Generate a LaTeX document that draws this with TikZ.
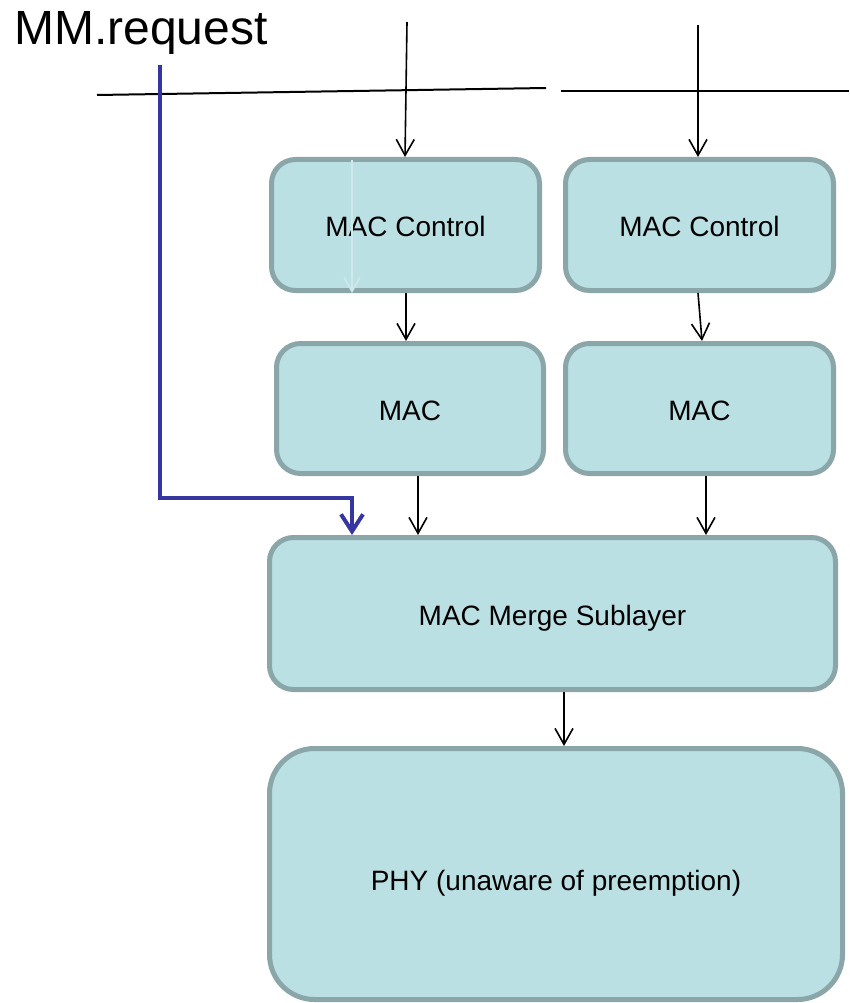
\documentclass[tikz,border=0pt]{standalone}
\usepackage{fontspec}
\setmainfont{Liberation Sans}
\usetikzlibrary{arrows.meta,calc}
\definecolor{boxfill}{HTML}{BAE0E3}
\definecolor{boxline}{HTML}{8AA6A9}
\definecolor{mmblue}{HTML}{3636A0}
\definecolor{ghost}{HTML}{CFE9EB}
\tikzset{
  blk/.style={draw=boxline, fill=boxfill, line width=5pt, rounded corners=24pt,
    font=\fontsize{28}{32}\selectfont, inner sep=0pt, text height=23pt, text depth=0pt},
  arr/.style={draw=black, line width=1.6pt, -{Straight Barb[length=16pt,width=18pt,line width=1.6pt]}},
  bluearr/.style={draw=mmblue, line width=4pt, -{Straight Barb[length=17pt,width=22pt,line width=4pt]}},
  bar/.style={draw=black, line width=2pt},
}
\begin{document}
\begin{tikzpicture}[x=1pt,y=-1pt]
\useasboundingbox (0,0) rectangle (849,1003);
% boxes
\node[blk, minimum width=268pt, minimum height=131pt] (mcl) at (405.5,225) {MAC Control};
\node[blk, minimum width=268pt, minimum height=131pt] (mcr) at (699.5,225) {MAC Control};
\node[blk, minimum width=267pt, minimum height=130pt] (macl) at (410,408.5) {MAC};
\node[blk, minimum width=268pt, minimum height=130pt] (macr) at (699.5,408.5) {MAC};
\node[blk, minimum width=566pt, minimum height=152pt] (merge) at (552.5,613.5) {MAC Merge Sublayer};
\node[blk, rounded corners=45pt, text height=32pt, minimum width=573pt, minimum height=251pt] (phy) at (556,874) {PHY (unaware of preemption)};
% title text
\node[font=\fontsize{48}{56}\selectfont, anchor=base west, inner sep=0pt] (mm) at (14,45) {MM.request};
% horizontal bars
\draw[bar] (97,95) -- (546,88);
\draw[bar] (561,91) -- (849,91);
% ghost arrow in left MAC Control
\coordinate (g1) at (352,160);
\draw[draw=ghost, line width=1.5pt, -{Straight Barb[length=14pt,width=16pt,line width=1.5pt]}] (g1) -- (g1 |- mcl.south);
% incoming arrows
\coordinate (tl) at (407,22);
\coordinate (tr) at (698,25);
\draw[arr] (tl) -- ([xshift=-0.5pt]mcl.north);
\draw[arr] (tr) -- ([xshift=-1.5pt]mcr.north);
\draw[arr] ([xshift=0.5pt]mcl.south) -- ([xshift=-4pt]macl.north);
\draw[arr] ([xshift=-1.5pt]mcr.south) -- ([xshift=2.5pt]macr.north);
\draw[arr] ([xshift=8pt]macl.south) -- ([xshift=-134.5pt]merge.north);
\draw[arr] ([xshift=6.5pt]macr.south) -- ([xshift=153.5pt]merge.north);
\draw[arr] ([xshift=11.5pt]merge.south) -- ([xshift=8pt]phy.north);
% MM.request blue path
\coordinate (b0) at (160,65);
\draw[bluearr] (b0) |- (352,498) -- ([xshift=-200.5pt]merge.north);
\end{tikzpicture}
\end{document}
